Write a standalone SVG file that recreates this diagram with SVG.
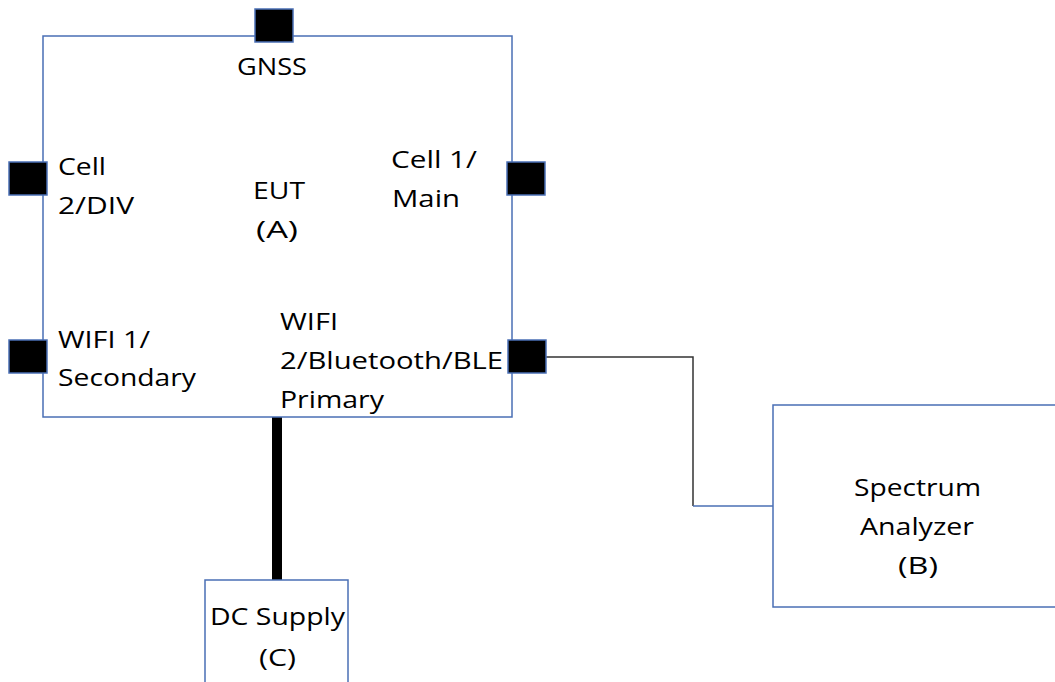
<svg xmlns="http://www.w3.org/2000/svg" width="1055" height="682" viewBox="0 0 1055 682">
<style>
.box{fill:#fff;stroke:#4a6fb5;stroke-width:1.5}
.port{fill:#000;stroke:#4a6fb5;stroke-width:1.5}
.t{font-family:"Open Sans","Liberation Sans",sans-serif;font-size:24px;fill:#000}
.wire{fill:none;stroke:#333;stroke-width:1.5}
.wireb{fill:none;stroke:#4a6fb5;stroke-width:1.5}
</style>
<rect width="1055" height="682" fill="#fff"/>
<g id="connectors">
<line x1="277" y1="417" x2="277" y2="580" stroke="#000" stroke-width="10"/>
<path class="wire" d="M546,357 H693 V506"/>
<path class="wireb" d="M693,506 H773"/>
</g>
<g id="eut">
<rect class="box" x="43" y="36" width="469" height="381"/>
<text class="t" x="237" y="75" textLength="70" lengthAdjust="spacingAndGlyphs">GNSS</text>
<text class="t" x="58" y="175" textLength="48" lengthAdjust="spacingAndGlyphs">Cell</text>
<text class="t" x="58" y="214" textLength="76" lengthAdjust="spacingAndGlyphs">2/DIV</text>
<text class="t" x="253" y="199" textLength="52" lengthAdjust="spacingAndGlyphs">EUT</text>
<text class="t" x="256" y="238" textLength="42" lengthAdjust="spacingAndGlyphs">(A)</text>
<text class="t" x="391" y="168" textLength="86" lengthAdjust="spacingAndGlyphs">Cell 1/</text>
<text class="t" x="392" y="207" textLength="68" lengthAdjust="spacingAndGlyphs">Main</text>
<text class="t" x="58" y="348" textLength="92" lengthAdjust="spacingAndGlyphs">WIFI 1/</text>
<text class="t" x="58" y="386" textLength="138" lengthAdjust="spacingAndGlyphs">Secondary</text>
<text class="t" x="280" y="330" textLength="58" lengthAdjust="spacingAndGlyphs">WIFI</text>
<text class="t" x="280" y="369" textLength="223" lengthAdjust="spacingAndGlyphs">2/Bluetooth/BLE</text>
<text class="t" x="280" y="408" textLength="104" lengthAdjust="spacingAndGlyphs">Primary</text>
</g>
<g id="port-gnss"><rect class="port" x="255" y="9" width="38" height="33"/></g>
<g id="port-cell2"><rect class="port" x="9" y="162" width="38" height="33"/></g>
<g id="port-cell1"><rect class="port" x="507" y="162" width="38" height="33"/></g>
<g id="port-wifi1"><rect class="port" x="9" y="340" width="38" height="33"/></g>
<g id="port-wifi2"><rect class="port" x="508" y="340" width="38" height="33"/></g>
<g id="spectrum-analyzer">
<rect class="box" x="773" y="405" width="290" height="202"/>
<text class="t" x="854" y="496" textLength="127" lengthAdjust="spacingAndGlyphs">Spectrum</text>
<text class="t" x="860" y="535" textLength="114" lengthAdjust="spacingAndGlyphs">Analyzer</text>
<text class="t" x="898" y="574" textLength="40" lengthAdjust="spacingAndGlyphs">(B)</text>
</g>
<g id="dc-supply">
<rect class="box" x="205" y="580" width="143" height="110"/>
<text class="t" x="210" y="625" textLength="135" lengthAdjust="spacingAndGlyphs">DC Supply</text>
<text class="t" x="259" y="666" textLength="37" lengthAdjust="spacingAndGlyphs">(C)</text>
</g>
</svg>
